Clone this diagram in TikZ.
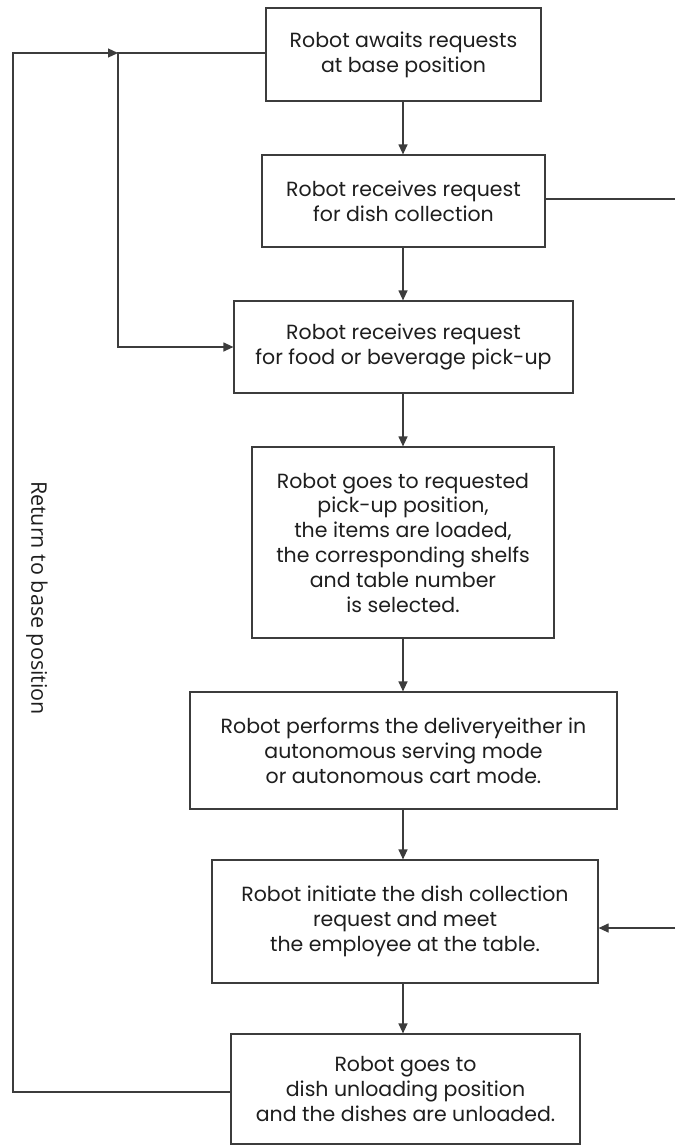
\documentclass[tikz,border=0pt]{standalone}
\usepackage{fontspec}
\setmainfont{Poppins}
\newfontfamily\labelfont{Open Sans}
\usetikzlibrary{arrows.meta}
\definecolor{linegray}{HTML}{3C3C3C}
\definecolor{textgray}{HTML}{1E1E1E}
\begin{document}
\begin{tikzpicture}[x=1pt,y=-1pt,
  stepbox/.style={draw=linegray,line width=1.2pt,inner sep=0pt,align=center,
    text=textgray,font=\fontsize{20.5}{24.8}\selectfont},
  link/.style={draw=linegray,line width=1.2pt},
  arr/.style={link,-{Triangle[length=10pt,width=9pt]}}]
\useasboundingbox (0,0) rectangle (675,1146);
\fill[white] (0,0) rectangle (675,1146);

\node[stepbox,minimum width=275pt,minimum height=93pt] (b1) at (403.5,54.5)
  {Robot awaits requests\\at base position};
\node[stepbox,minimum width=283pt,minimum height=92pt] (b2) at (403.5,201)
  {Robot receives request\\for dish collection};
\node[stepbox,minimum width=339pt,minimum height=92pt] (b3) at (403.5,347)
  {Robot receives request\\for food or beverage pick-up};
\node[stepbox,minimum width=302pt,minimum height=191pt] (b4) at (403,542.5)
  {Robot goes to requested\\pick-up position,\\the items are loaded,\\the corresponding shelfs\\and table number\\is selected.};
\node[stepbox,minimum width=427pt,minimum height=117pt] (b5) at (403.5,750.5)
  {Robot performs the deliveryeither in\\autonomous serving mode\\or autonomous cart mode.};
\node[stepbox,minimum width=386pt,minimum height=123pt] (b6) at (405,921.5)
  {Robot initiate the dish collection\\request and meet\\the employee at the table.};
\node[stepbox,minimum width=349pt,minimum height=110pt] (b7) at (405.5,1089)
  {Robot goes to\\dish unloading position\\and the dishes are unloaded.};

% main downward flow
\coordinate (x0) at (403,0);
\draw[arr] (b1.south -| x0) -- (b2.north -| x0);
\draw[arr] (b2.south -| x0) -- (b3.north -| x0);
\draw[arr] (b3.south -| x0) -- (b4.north -| x0);
\draw[arr] (b4.south -| x0) -- (b5.north -| x0);
\draw[arr] (b5.south -| x0) -- (b6.north -| x0);
\draw[arr] (b6.south -| x0) -- (b7.north -| x0);

% waiting loop: base position to food/beverage request
\coordinate (j) at (118,53);
\draw[arr] (b1.west |- j) -- (j) |- (b3.west);

% return to base position
\coordinate (rb) at (13,1092);
\draw[arr] (b7.west |- rb) -- (rb) |- (j);
\node[rotate=-90,text=textgray,font=\labelfont\fontsize{21.5}{25}\selectfont] (lbl) at (37,598)
  {Return to base position};

% dish collection branch along the right edge
\coordinate (re1) at (675,199);
\coordinate (re2) at (675,928);
\draw[link] (b2.east |- re1) -- (re1);
\draw[arr] (re2) -- (b6.east |- re2);
\end{tikzpicture}
\end{document}
